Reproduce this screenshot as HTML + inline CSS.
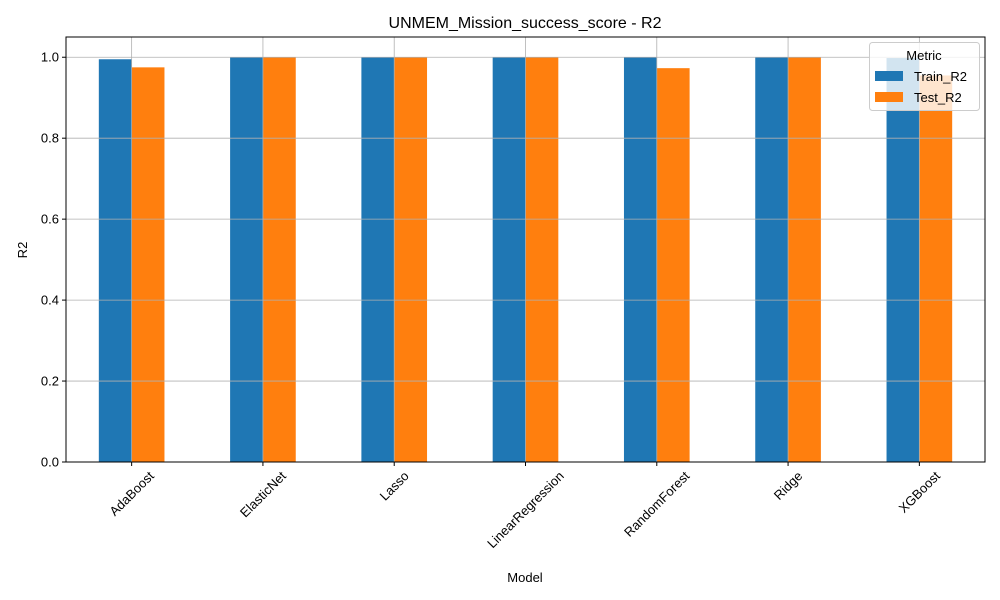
<!DOCTYPE html>
<html><head><meta charset="utf-8"><style>
body{margin:0;background:#fff;}
svg{display:block;font-family:"Liberation Sans","DejaVu Sans",sans-serif;}
</style></head><body>
<svg id="chart" width="1000" height="600" viewBox="0 0 1000 600">
<rect width="1000" height="600" fill="#fff"/>
<text x="525" y="28" font-size="16" text-anchor="middle">UNMEM_Mission_success_score - R2</text>
<g id="bars"></g>
<g id="grid"></g>
<rect x="66" y="37" width="919" height="425" fill="none" stroke="#000" stroke-width="1"/>
<g id="axes"></g>
<text x="525" y="582" font-size="13" text-anchor="middle">Model</text>
<text transform="translate(27,250) rotate(-90)" font-size="13" text-anchor="middle">R2</text>
<g>
<rect x="869.5" y="42.5" width="110" height="68" rx="3" fill="#fff" fill-opacity="0.8" stroke="#ccc"/>
<text x="924" y="60" font-size="13" text-anchor="middle">Metric</text>
<rect x="875" y="71" width="28" height="10" fill="#1f77b4"/>
<text x="914" y="81" font-size="13">Train_R2</text>
<rect x="875" y="92" width="28" height="10" fill="#ff7f0e"/>
<text x="914" y="102" font-size="13">Test_R2</text>
</g>
</svg>
<script>
const categories=["AdaBoost","ElasticNet","Lasso","LinearRegression","RandomForest","Ridge","XGBoost"];
const trainR2=[0.995,1.0,1.0,1.0,1.0,1.0,0.998];
const testR2=[0.975,1.0,1.0,1.0,0.973,1.0,0.955];
const yTicks=[0,0.2,0.4,0.6,0.8,1.0];
const yTickLabels=["0.0","0.2","0.4","0.6","0.8","1.0"];
const NS="http://www.w3.org/2000/svg";
const L=66,R=985,T=37,B=462;
const step=(R-L)/categories.length;
const xC=i=>L+step*(i+0.5);
const yS=v=>B-v/1.05*(B-T);
const bw=step*0.25;
function mk(tag,attrs,parent){const e=document.createElementNS(NS,tag);for(const k in attrs)e.setAttribute(k,attrs[k]);parent.appendChild(e);return e;}
const gb=document.getElementById('bars'),gg=document.getElementById('grid'),ga=document.getElementById('axes');
categories.forEach((c,i)=>{
 const r1=mk('rect',{x:xC(i)-bw,y:yS(trainR2[i]),width:bw,height:B-yS(trainR2[i]),fill:'#1f77b4'},gb);
 
 
 const r2=mk('rect',{x:xC(i),y:yS(testR2[i]),width:bw,height:B-yS(testR2[i]),fill:'#ff7f0e'},gb);
 
 
 const gl=mk('line',{x1:xC(i),x2:xC(i),y1:T,y2:B,stroke:'#b0b0b0','stroke-width':0.8},gg);
 
 
 mk('line',{x1:xC(i),x2:xC(i),y1:B,y2:B+4,stroke:'#000'},ga);
 const t=mk('text',{x:0,y:0,'font-size':13,'text-anchor':'middle','dominant-baseline':'central'},ga);
 t.textContent=c;
 
 
 const w=t.getComputedTextLength(),h=13;
 const cx=xC(i),cy=B+7+(w+h)*0.707/2;
 t.setAttribute('x',cx);t.setAttribute('y',cy);
 t.setAttribute('transform',`rotate(-45 ${cx} ${cy})`);
});
yTicks.forEach((v,i)=>{
 const y=yS(v);
 const gl=mk('line',{x1:L,x2:R,y1:y,y2:y,stroke:'#b0b0b0','stroke-width':0.8},gg);
 
 
 mk('line',{x1:L-4,x2:L,y1:y,y2:y,stroke:'#000'},ga);
 const t=mk('text',{x:L-7,y:y+4.5,'font-size':13,'text-anchor':'end'},ga);
 t.textContent=yTickLabels[i];
 
 
});
</script>
</body></html>
